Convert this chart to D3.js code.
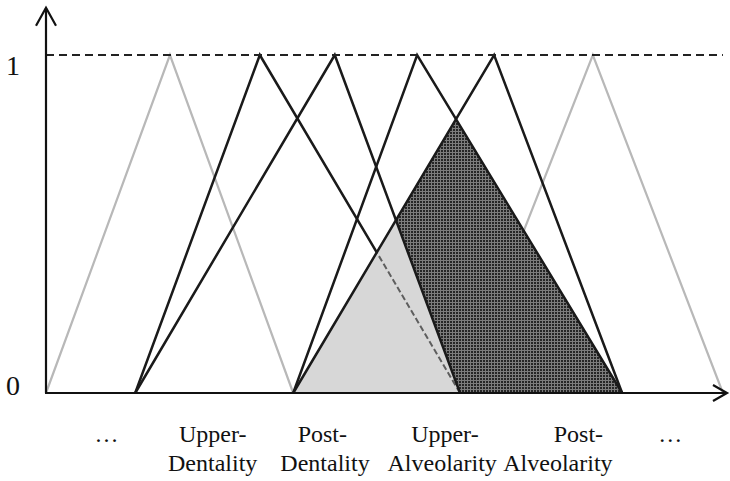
<!DOCTYPE html>
<html>
<head>
<meta charset="utf-8">
<script src="https://cdn.jsdelivr.net/npm/d3@7"></script>
<style>
  html, body { margin: 0; padding: 0; background: #fff; }
  svg { display: block; }
  text { font-family: "Liberation Serif", "Times New Roman", serif; fill: #111; }
</style>
</head>
<body>
<script>
// Triangular membership functions [left foot, peak, right foot] on the articulation axis
const contextSets = [
  [0, 18.2, 36.3],
  [60.8, 80.3, 99.4]
];
const upperDentality   = [13.1, 31.4, 60.8];
const postDentality    = [13.1, 42.4, 60.8];
const upperAlveolarity = [36.3, 54.5, 84.6];
const postAlveolarity  = [36.3, 65.8, 84.6];

const yTickValues = [0, 1];
const xLabelTop      = ["…", "Upper-", "Post-", "Upper-", "Post-", "…"];
const xLabelTopAt    = [8.8, 24.4, 40.5, 58.5, 78.1, 91.6];
const xLabelBottom   = ["Dentality", "Dentality", "Alveolarity", "Alveolarity"];
const xLabelBottomAt = [24.4, 40.9, 58.1, 75.1];

const W = 730, H = 481;
const x = d3.scaleLinear().domain([0, 100]).range([46, 727]);
const y = d3.scaleLinear().domain([0, 1]).range([393, 55]);

const svg = d3.select("body").append("svg").attr("width", W).attr("height", H);
const defs = svg.append("defs");

// stippled texture for the overlap region
const pat = defs.append("pattern").attr("id", "stipple")
  .attr("patternUnits", "userSpaceOnUse").attr("width", 3).attr("height", 3);
pat.append("rect").attr("width", 3).attr("height", 3).attr("fill", "#7c7c7c");
pat.append("rect").attr("width", 2).attr("height", 2).attr("fill", "#262626");

// membership value of triangle t at position v
const mu = t => v => (v <= t[0] || v >= t[2]) ? 0 : (v <= t[1] ? (v - t[0]) / (t[1] - t[0]) : (t[2] - v) / (t[2] - t[1]));
const segs = t => [[t[0], 0, t[1], 1], [t[1], 1, t[2], 0]];

// every corner of min combinations: vertices and pairwise segment crossings
function breakpoints(ts) {
  const xs = ts.flat();
  for (let i = 0; i < ts.length; i++)
    for (let j = i + 1; j < ts.length; j++)
      for (const [a1, b1, a2, b2] of segs(ts[i]))
        for (const [c1, d1, c2, d2] of segs(ts[j])) {
          const s1 = (b2 - b1) / (a2 - a1), s2 = (d2 - d1) / (c2 - c1);
          if (Math.abs(s1 - s2) < 1e-9) continue;
          const xi = (d1 - b1 + s1 * a1 - s2 * c1) / (s1 - s2);
          if (xi >= a1 && xi <= a2 && xi >= c1 && xi <= c2) xs.push(xi);
        }
  return Array.from(new Set(xs)).sort((a, b) => a - b);
}

const m2 = mu(postDentality), m3 = mu(upperAlveolarity), m4 = mu(postAlveolarity);
const lowFn  = v => Math.min(m2(v), m4(v));
const highFn = v => Math.min(m3(v), m4(v));

const lightXs = breakpoints([postDentality, postAlveolarity])
  .filter(v => v >= postAlveolarity[0] && v <= postDentality[2]);
const darkXs = breakpoints([postDentality, upperAlveolarity, postAlveolarity])
  .filter(v => v >= upperAlveolarity[0] && v <= upperAlveolarity[2]);

const lightArea = d3.area().x(v => x(v)).y0(y(0)).y1(v => y(lowFn(v)));
const darkArea = d3.area().x(v => x(v))
  .y0(v => y(Math.min(lowFn(v), highFn(v))))
  .y1(v => y(highFn(v)));

defs.append("clipPath").attr("id", "inLight")
  .append("path").attr("d", lightArea(lightXs));
const mask = defs.append("mask").attr("id", "outLight");
mask.append("rect").attr("width", W).attr("height", H).attr("fill", "#fff");
mask.append("path").attr("d", lightArea(lightXs)).attr("fill", "#000");

const triLine = t => d3.line().x(d => x(d[0])).y(d => y(d[1]))([[t[0], 0], [t[1], 1], [t[2], 0]]);

// faint context sets
svg.append("g").selectAll("path").data(contextSets).join("path")
  .attr("d", triLine).attr("fill", "none")
  .attr("stroke", "#b8b8b8").attr("stroke-width", 2.2);

// overlap fills
svg.append("path").attr("d", lightArea(lightXs)).attr("fill", "#d7d7d7");
svg.append("path").attr("d", darkArea(darkXs)).attr("fill", "url(#stipple)");

// Upper-Dentality: solid outside the light overlap, grey dashed inside it
svg.append("path").attr("d", triLine(upperDentality)).attr("fill", "none")
  .attr("stroke", "#1a1a1a").attr("stroke-width", 2.5).attr("mask", "url(#outLight)");
svg.append("path").attr("d", triLine(upperDentality)).attr("fill", "none")
  .attr("stroke", "#5e5e5e").attr("stroke-width", 2).attr("stroke-dasharray", "6 3")
  .attr("clip-path", "url(#inLight)");

svg.append("g").selectAll("path")
  .data([postDentality, upperAlveolarity, postAlveolarity]).join("path")
  .attr("d", triLine).attr("fill", "none")
  .attr("stroke", "#1a1a1a").attr("stroke-width", 2.5).attr("stroke-linejoin", "miter");

// level 1 reference line
svg.append("line")
  .attr("x1", x(0)).attr("x2", x(99.4)).attr("y1", y(1)).attr("y2", y(1))
  .attr("stroke", "#222").attr("stroke-width", 2).attr("stroke-dasharray", "8 5");

// axes with open arrowheads
const axisStroke = "#111";
const yTop = y(1.14), xEnd = x(100);
svg.append("line").attr("x1", x(0)).attr("x2", x(0)).attr("y1", y(0)).attr("y2", yTop)
  .attr("stroke", axisStroke).attr("stroke-width", 2.2);
svg.append("path").attr("d", `M${x(0) - 10},${yTop + 18}L${x(0)},${yTop}L${x(0) + 10},${yTop + 18}`)
  .attr("fill", "none").attr("stroke", axisStroke).attr("stroke-width", 2.2);
svg.append("line").attr("x1", x(0) - 1).attr("x2", xEnd).attr("y1", y(0)).attr("y2", y(0))
  .attr("stroke", axisStroke).attr("stroke-width", 2.2);
svg.append("path").attr("d", `M${xEnd - 14},${y(0) - 8}L${xEnd},${y(0)}L${xEnd - 14},${y(0) + 8}`)
  .attr("fill", "none").attr("stroke", axisStroke).attr("stroke-width", 2.2);

// y tick labels
const yAxis = svg.append("g").attr("transform", `translate(${x(0)},0)`)
  .call(d3.axisLeft(y).tickValues(yTickValues).tickSize(0).tickPadding(26).tickFormat(d3.format("d")));
yAxis.select(".domain").remove();
yAxis.selectAll("text")
  .attr("font-size", 28).attr("font-family", null).attr("fill", "#111")
  .attr("dy", d => d === 1 ? "0.68em" : "0.05em");

// category labels under the axis, two rows
const labelRow = (values, labels, dy) => {
  const g = svg.append("g").attr("transform", `translate(0,${y(0)})`)
    .call(d3.axisBottom(x).tickValues(values).tickSize(0).tickPadding(0)
      .tickFormat((d, i) => labels[i]));
  g.select(".domain").remove();
  g.selectAll("text").attr("font-size", 24).attr("font-family", null)
    .attr("fill", "#111").attr("dy", 0).attr("y", dy);
};
labelRow(xLabelTopAt, xLabelTop, 49);
labelRow(xLabelBottomAt, xLabelBottom, 78);
</script>
</body>
</html>
